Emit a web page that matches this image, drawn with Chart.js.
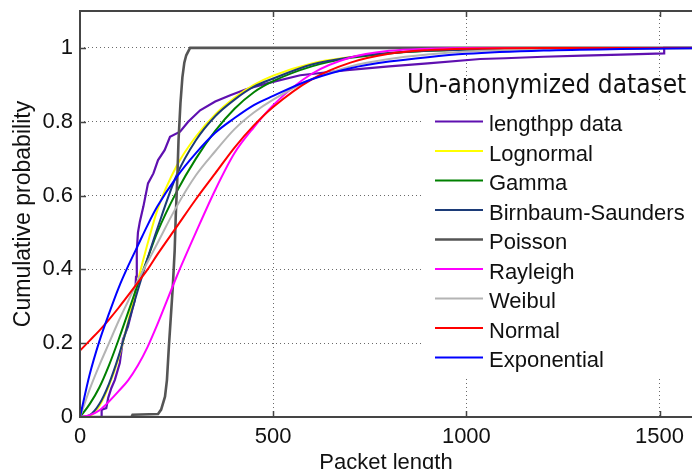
<!DOCTYPE html>
<html>
<head>
<meta charset="utf-8">
<script src="https://cdn.jsdelivr.net/npm/chart.js@4.4.1/dist/chart.umd.min.js"></script>
<style>
html,body{margin:0;padding:0;background:#fff;}
#wrap{width:692px;height:469px;position:relative;}
</style>
</head>
<body>
<div id="wrap"><canvas id="c" width="692" height="469"></canvas></div>
<script>
// ---------- data ----------
const seriesNames = ['lengthpp data','Lognormal','Gamma','Birnbaum-Saunders','Poisson','Rayleigh','Weibul','Normal','Exponential'];
const seriesColors = ['#5f10b0','#ffff00','#008000','#1c3b78','#555555','#ff00ff','#b4b4b4','#ff0000','#0000ff'];
const titleText = 'Un-anonymized dataset';
const xAxisTitle = 'Packet length';
const yAxisTitle = 'Cumulative probability';
const xTicks = [0, 500, 1000, 1500];
const yTicks = [0, 0.2, 0.4, 0.6, 0.8, 1];

// empirical CDF of packet lengths
const dataX = [0, 56, 56, 68, 73, 81, 90, 103, 111, 124, 135, 142, 145, 147, 150, 155, 164, 176, 190, 202, 219, 233, 259, 280, 311, 350, 389, 430, 484, 570, 691, 800, 900, 1036, 1100, 1200, 1300, 1400, 1512, 1512, 1584];
const dataP = [0, 0, 0.02, 0.024, 0.052, 0.078, 0.10, 0.146, 0.209, 0.245, 0.29, 0.317, 0.38, 0.45, 0.50, 0.53, 0.57, 0.633, 0.66, 0.696, 0.723, 0.759, 0.773, 0.80, 0.831, 0.855, 0.872, 0.888, 0.904, 0.926, 0.94, 0.95, 0.958, 0.97, 0.972, 0.976, 0.979, 0.982, 0.985, 1.0, 1.0];

// fitted distributions
const fitX         = [0, 25, 50, 75, 100, 125, 150, 175, 200, 250, 300, 350, 400, 450, 500, 600, 700, 800, 900, 1000, 1200, 1400, 1584];
const lognormalP   = [0, 0.003, 0.03, 0.085, 0.16, 0.26, 0.37, 0.47, 0.56, 0.68, 0.76, 0.82, 0.865, 0.90, 0.925, 0.958, 0.975, 0.986, 0.992, 0.995, 0.998, 0.999, 1];
const gammaP       = [0, 0.035, 0.08, 0.14, 0.21, 0.285, 0.36, 0.43, 0.50, 0.61, 0.70, 0.775, 0.835, 0.88, 0.91, 0.95, 0.973, 0.985, 0.992, 0.996, 0.999, 1, 1];
const birnbaumP    = [0, 0.005, 0.035, 0.09, 0.165, 0.255, 0.345, 0.43, 0.51, 0.655, 0.75, 0.815, 0.86, 0.895, 0.917, 0.955, 0.975, 0.986, 0.992, 0.995, 0.998, 0.999, 1];
const rayleighP    = [0, 0.005, 0.018, 0.042, 0.07, 0.10, 0.14, 0.19, 0.25, 0.38, 0.50, 0.615, 0.715, 0.785, 0.845, 0.93, 0.974, 0.992, 0.998, 1, 1, 1, 1];
const weibullP     = [0, 0.075, 0.14, 0.20, 0.26, 0.315, 0.37, 0.42, 0.47, 0.57, 0.655, 0.72, 0.78, 0.825, 0.86, 0.915, 0.95, 0.97, 0.982, 0.99, 0.997, 0.999, 1];
const normalP      = [0.18, 0.207, 0.234, 0.264, 0.296, 0.33, 0.365, 0.40, 0.44, 0.515, 0.59, 0.66, 0.73, 0.79, 0.84, 0.915, 0.96, 0.984, 0.994, 0.998, 1, 1, 1];
const exponentialP = [0, 0.115, 0.205, 0.28, 0.35, 0.41, 0.465, 0.52, 0.57, 0.65, 0.715, 0.77, 0.81, 0.845, 0.87, 0.915, 0.945, 0.963, 0.975, 0.984, 0.993, 0.997, 0.999];

const poissonX = [0, 133, 136, 202, 210, 220, 225, 230, 235, 240, 245, 248, 252, 255, 260, 265, 270, 275, 285, 1584];
const poissonP = [0, 0, 0.006, 0.008, 0.02, 0.055, 0.10, 0.19, 0.27, 0.35, 0.45, 0.55, 0.65, 0.75, 0.85, 0.92, 0.96, 0.98, 1.0, 1.0];

// ---------- build ----------
const pts = (xs, ys) => xs.map((x, i) => ({x: x, y: ys[i]}));
const seriesData = [
  pts(dataX, dataP),
  pts(fitX, lognormalP),
  pts(fitX, gammaP),
  pts(fitX, birnbaumP),
  pts(poissonX, poissonP),
  pts(fitX, rayleighP),
  pts(fitX, weibullP),
  pts(fitX, normalP),
  pts(fitX, exponentialP)
];
const smooth = [false, true, true, true, false, true, true, true, true];
const widths = [2.2, 2, 2, 2, 2.6, 2, 2, 2, 2];

const datasets = seriesNames.map((n, i) => ({
  label: n,
  data: seriesData[i],
  borderColor: seriesColors[i],
  backgroundColor: seriesColors[i],
  borderWidth: widths[i],
  pointRadius: 0,
  fill: false,
  tension: 0,
  cubicInterpolationMode: smooth[i] ? 'monotone' : 'default',
  order: seriesNames.length - i
}));

const AXIS = '#454545';
const decor = {
  id: 'decor',
  beforeDatasetsDraw(chart) {
    const {ctx, chartArea: a} = chart;
    ctx.save();
    ctx.fillStyle = '#ffffff';
    ctx.fillRect(421, 103, a.right - 421 + 5, 274);
    ctx.restore();
  },
  afterDraw(chart) {
    const {ctx, chartArea: a, scales} = chart;
    const x = scales.x, y = scales.y;
    ctx.save();
    ctx.strokeStyle = AXIS;
    ctx.lineWidth = 2;
    ctx.beginPath();
    ctx.moveTo(a.right + 5, a.top);
    ctx.lineTo(a.left, a.top);
    ctx.lineTo(a.left, a.bottom);
    ctx.lineTo(a.right + 5, a.bottom);
    ctx.stroke();
    // inward tick marks
    ctx.lineWidth = 1.5;
    ctx.beginPath();
    xTicks.forEach(v => {
      if (v === 0) return;
      const px = Math.round(x.getPixelForValue(v)) + 0.5;
      ctx.moveTo(px, a.bottom); ctx.lineTo(px, a.bottom - 6);
      ctx.moveTo(px, a.top); ctx.lineTo(px, a.top + 6);
    });
    yTicks.forEach(v => {
      if (v === 0) return;
      const py = Math.round(y.getPixelForValue(v)) + 0.5;
      ctx.moveTo(a.left, py); ctx.lineTo(a.left + 6, py);
    });
    ctx.stroke();
    // in-plot title
    ctx.fillStyle = '#111';
    ctx.textBaseline = 'alphabetic';
    ctx.textAlign = 'left';
    ctx.font = '26px "DejaVu Sans Condensed", "DejaVu Sans", sans-serif';
    ctx.fillText(titleText, 407, 93);
    // legend
    ctx.font = '22px "Liberation Sans", Arial, sans-serif';
    seriesNames.forEach((n, i) => {
      const ly = 121.5 + i * 29.5;
      ctx.strokeStyle = seriesColors[i];
      ctx.lineWidth = widths[i];
      ctx.beginPath();
      ctx.moveTo(435, ly); ctx.lineTo(483, ly);
      ctx.stroke();
      ctx.fillStyle = '#111';
      ctx.fillText(n, 489, ly + 9.5);
    });
    ctx.restore();
  }
};

const tickFont = {family: '"Liberation Sans", Arial, sans-serif', size: 22};

new Chart(document.getElementById('c'), {
  type: 'line',
  data: {datasets},
  options: {
    responsive: false,
    animation: false,
    devicePixelRatio: 1,
    layout: {padding: {top: 11, right: 0, bottom: 0, left: 0}},
    plugins: {legend: {display: false}, tooltip: {enabled: false}},
    scales: {
      x: {
        type: 'linear',
        min: 0, max: 1584,
        afterBuildTicks: s => { s.ticks = xTicks.map(v => ({value: v})); },
        afterFit: s => { s.height = 52; s.paddingLeft = 0; s.paddingRight = 0; },
        ticks: {autoSkip: false, maxRotation: 0, padding: 7, color: '#111', font: tickFont, callback: v => String(v)},
        grid: {drawTicks: false, lineWidth: 1, color: c => (c.tick && c.tick.value === 0) ? 'rgba(0,0,0,0)' : '#6a6a6a'},
        border: {display: false, dash: [1, 3]},
        title: {display: true, text: xAxisTitle, color: '#111', font: {family: '"Liberation Sans", Arial, sans-serif', size: 22}, padding: {top: 0, bottom: -7}}
      },
      y: {
        type: 'linear',
        min: 0, max: 1.1,
        afterBuildTicks: s => { s.ticks = yTicks.map(v => ({value: v})); },
        afterFit: s => { s.width = 80; s.paddingTop = 0; s.paddingBottom = 0; },
        ticks: {padding: 7, color: '#111', font: tickFont, callback: v => String(v)},
        grid: {drawTicks: false, lineWidth: 1, color: c => (c.tick && c.tick.value === 0) ? 'rgba(0,0,0,0)' : '#6a6a6a'},
        border: {display: false, dash: [1, 3]},
        title: {display: true, text: yAxisTitle, color: '#111', font: {family: '"Liberation Sans", Arial, sans-serif', size: 23}, padding: {top: 10, bottom: 0}}
      }
    }
  },
  plugins: [decor]
});
</script>
</body>
</html>
